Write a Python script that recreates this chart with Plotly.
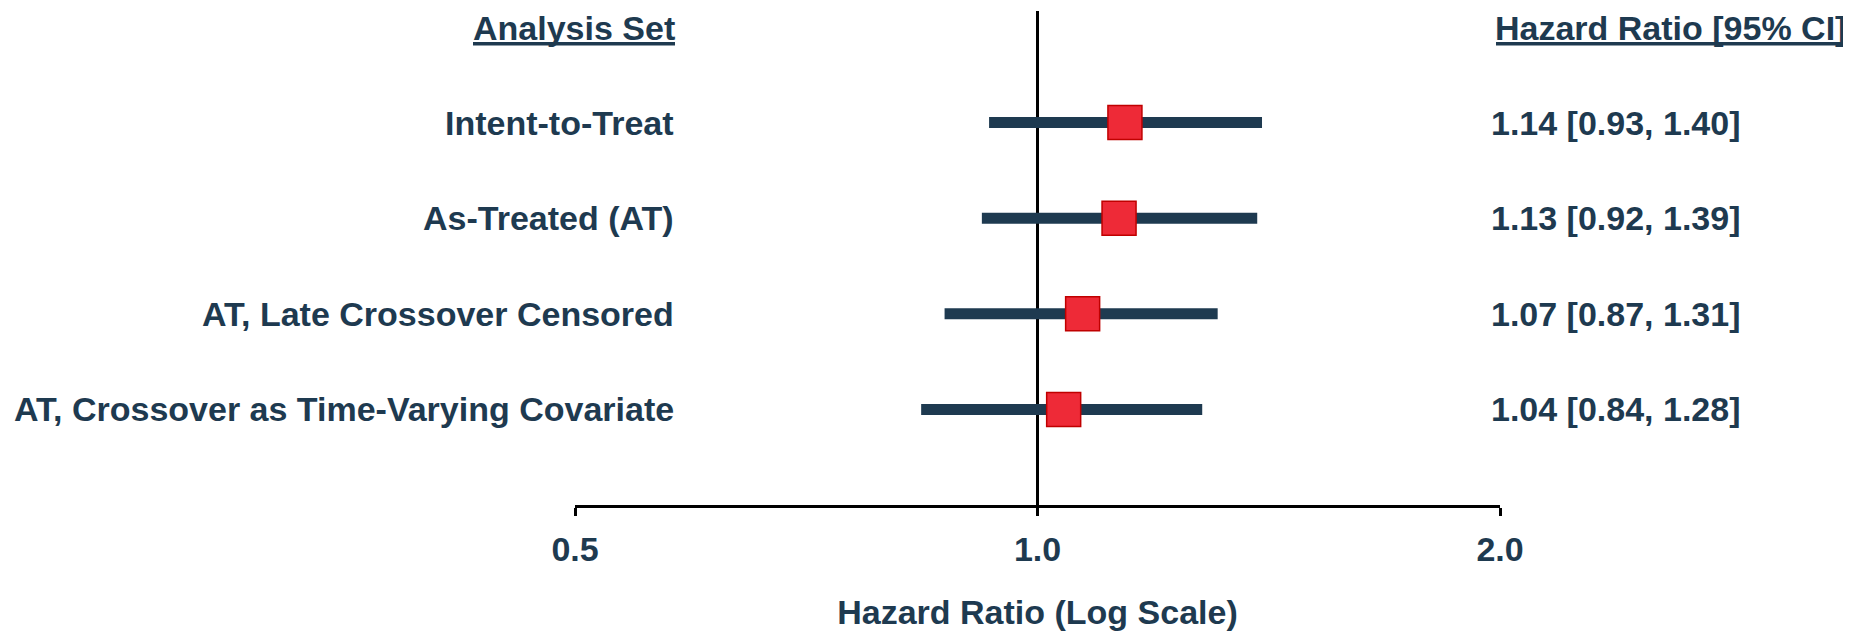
import math
import plotly.graph_objects as go

# ---- data ----
labels = [
    "Intent-to-Treat",
    "As-Treated (AT)",
    "AT, Late Crossover Censored",
    "AT, Crossover as Time-Varying Covariate",
]
hr = [1.14, 1.13, 1.07, 1.04]
ci_lo = [0.93, 0.92, 0.87, 0.84]
ci_hi = [1.40, 1.39, 1.31, 1.28]
tick_vals = [0.5, 1.0, 2.0]
tick_text = ["0.5", "1.0", "2.0"]
left_header = "Analysis Set"
right_header = "Hazard Ratio [95% CI]"
x_title = "Hazard Ratio (Log Scale)"

NAVY = "#1E3A50"
FONT = "Liberation Sans, Arial, sans-serif"
FS = 34

# page has an 8px body margin: figure spans page x 8..1851, y 8..631
W, H = 1843, 623
ML, MR, MT, MB = 567, 351, 3, 124
PW = W - ML - MR
PH = H - MT - MB


def px_to_paper_x(px_page):
    return (px_page - 8 - ML) / PW


def px_to_paper_y(py_page):
    return 1 - (py_page - 8 - MT) / PH


rows = list(range(len(labels)))

fig = go.Figure()

# CI bars
bx, by = [], []
for r, lo, hi in zip(rows, ci_lo, ci_hi):
    bx += [lo, hi, None]
    by += [r, r, None]
fig.add_trace(go.Scatter(x=bx, y=by, mode="lines",
                         line=dict(color=NAVY, width=11),
                         hoverinfo="skip", showlegend=False))

# point estimates
fig.add_trace(go.Scatter(x=hr, y=rows, mode="markers",
                         marker=dict(symbol="square", size=34, color="#EE2A37",
                                     line=dict(color="#C00000", width=1.5)),
                         showlegend=False))

# reference line at HR = 1
fig.add_shape(type="line", xref="x", yref="paper", x0=1, x1=1, y0=0, y1=1.0,
              line=dict(color="black", width=3), layer="below")

ann_font = dict(family=FONT, size=FS, color=NAVY, weight="bold")
LX = px_to_paper_x(676)    # right edge of left labels
RX = px_to_paper_x(1489)   # left edge of right column
RHX = px_to_paper_x(1494)  # left edge of right header
HY = px_to_paper_y(28)     # header vertical centre

fig.add_annotation(x=LX, xref="paper", y=HY, yref="paper", text=left_header,
                   xanchor="right", yanchor="middle", showarrow=False, font=ann_font,
                   borderpad=0)
fig.add_annotation(x=RHX, xref="paper", y=HY, yref="paper", text=right_header,
                   xanchor="left", yanchor="middle", showarrow=False, font=ann_font,
                   borderpad=0)

# header underlines
uy = px_to_paper_y(44)
fig.add_shape(type="line", xref="paper", yref="paper",
              x0=px_to_paper_x(473), x1=px_to_paper_x(675), y0=uy, y1=uy,
              line=dict(color=NAVY, width=3.5))
fig.add_shape(type="line", xref="paper", yref="paper",
              x0=px_to_paper_x(1496), x1=px_to_paper_x(1846), y0=uy, y1=uy,
              line=dict(color=NAVY, width=3.5))

for r, lab, h, lo, hi in zip(rows, labels, hr, ci_lo, ci_hi):
    fig.add_annotation(x=LX, xref="paper", y=r, yref="y", text=lab,
                       xanchor="right", yanchor="middle", showarrow=False, font=ann_font)
    fig.add_annotation(x=RX, xref="paper", y=r, yref="y",
                       text="%.2f [%.2f, %.2f]" % (h, lo, hi),
                       xanchor="left", yanchor="middle", showarrow=False, font=ann_font)

fig.update_layout(
    width=W, height=H,
    margin=dict(l=ML, r=MR, t=MT, b=MB),
    paper_bgcolor="white", plot_bgcolor="white",
    xaxis=dict(type="log", range=[math.log10(0.5), math.log10(2.0)],
               tickvals=tick_vals, ticktext=tick_text,
               showline=True, linecolor="black", linewidth=3,
               ticks="outside", ticklen=8, tickwidth=3, tickcolor="black",
               ticklabelstandoff=4,
               showgrid=False, zeroline=False,
               tickfont=dict(family=FONT, size=FS, color=NAVY, weight="bold"),
               title=dict(text=x_title, standoff=36,
                          font=dict(family=FONT, size=FS, color=NAVY, weight="bold"))),
    yaxis=dict(range=[4.0, -1.1667], visible=False, showgrid=False, zeroline=False),
)

fig.write_html("out.html", config={"displayModeBar": False})
